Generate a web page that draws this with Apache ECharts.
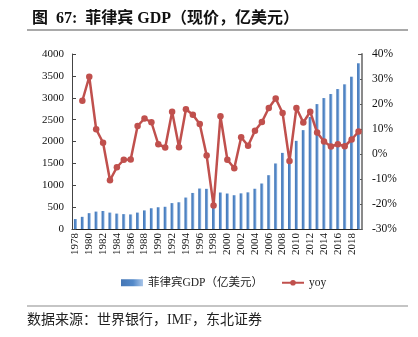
<!DOCTYPE html>
<html>
<head>
<meta charset="utf-8">
<script src="https://cdn.jsdelivr.net/npm/echarts@6/dist/echarts.min.js"></script>
<style>
  html, body { margin: 0; padding: 0; background: #fff; }
  #chart { width: 418px; height: 337px; }
</style>
</head>
<body>
<div id="chart"></div>
<script>
// Philippines GDP at current prices (100 million USD) and year-on-year growth (%)
const years = ['1978','1979','1980','1981','1982','1983','1984','1985','1986','1987',
  '1988','1989','1990','1991','1992','1993','1994','1995','1996','1997',
  '1998','1999','2000','2001','2002','2003','2004','2005','2006','2007',
  '2008','2009','2010','2011','2012','2013','2014','2015','2016','2017',
  '2018','2019'];

const gdp = [227, 278, 362, 398, 412, 375, 352, 340, 333, 375,
  425, 474, 497, 508, 592, 611, 719, 824, 925, 918,
  720, 834, 811, 772, 815, 838, 920, 1040, 1230, 1498,
  1740, 1690, 2015, 2260, 2560, 2855, 2993, 3085, 3199, 3307,
  3481, 3788];

const yoy = [null, 21.3, 30.9, 9.9, 4.5, -10.5, -5.3, -2.3, -2.2, 11.2,
  14.2, 12.7, 3.9, 2.6, 16.9, 2.7, 17.9, 15.7, 12.0, -0.6,
  -20.6, 15.1, -2.3, -5.7, 6.7, 3.3, 9.3, 12.8, 18.4, 22.2,
  16.4, -2.8, 18.4, 12.6, 16.9, 8.6, 5.0, 3.0, 3.9, 3.1,
  5.8, 9.0];

const leftTicks = { min: 0, max: 4000, interval: 500 };
const rightTicks = { min: -30, max: 40, interval: 10 };

const serif = "'Liberation Serif', 'Times New Roman', 'Noto Sans CJK SC', serif";
const cjk = "'Liberation Serif', 'Noto Sans CJK SC', sans-serif";

const chart = echarts.init(document.getElementById('chart'), null, { renderer: 'canvas' });

chart.setOption({
  animation: false,
  backgroundColor: '#ffffff',
  title: {
    text: '图  67:  菲律宾 GDP（现价，亿美元）',
    left: 27,
    top: 6,
    textStyle: { fontFamily: cjk, fontSize: 16, fontWeight: 'bold', color: '#111' }
  },
  graphic: [
    { type: 'line', shape: { x1: 27, y1: 30, x2: 408, y2: 30 },
      style: { stroke: '#8c8c8c', lineWidth: 1.5 } },
    { type: 'line', shape: { x1: 27, y1: 306, x2: 408, y2: 306 },
      style: { stroke: '#8c8c8c', lineWidth: 1.2 } },
    { type: 'text', left: 27, top: 313,
      style: { text: '数据来源：世界银行，IMF，东北证券', font: "14px 'Liberation Serif', 'Noto Sans CJK SC'", fill: '#222' } }
  ],
  legend: {
    left: 116,
    top: 272,
    itemWidth: 22,
    itemHeight: 7,
    itemGap: 18,
    textStyle: { fontFamily: cjk, fontSize: 11.5, color: '#222' },
    data: [
      { name: '菲律宾GDP（亿美元）', icon: 'rect' },
      { name: 'yoy' }
    ]
  },
  grid: { left: 72, right: 56, top: 54, bottom: 108 },
  xAxis: {
    type: 'category',
    data: years,
    boundaryGap: true,
    axisLine: { lineStyle: { color: '#222', width: 1 } },
    axisTick: { inside: true, length: 4, alignWithLabel: false, interval: 0, lineStyle: { color: '#333' } },
    axisLabel: { rotate: 90, interval: 1, margin: 4, fontFamily: serif, fontSize: 11, color: '#111' }
  },
  yAxis: [
    {
      type: 'value',
      min: leftTicks.min, max: leftTicks.max, interval: leftTicks.interval,
      splitLine: { show: false },
      axisLine: { show: true, lineStyle: { color: '#444' } },
      axisTick: { show: true, inside: true, length: 4, lineStyle: { color: '#444' } },
      axisLabel: { margin: 8, fontFamily: serif, fontSize: 11, color: '#111',
        formatter: v => String(v) }
    },
    {
      type: 'value',
      position: 'right',
      min: rightTicks.min, max: rightTicks.max, interval: rightTicks.interval,
      splitLine: { show: false },
      axisLine: { show: true, lineStyle: { color: '#8a8a8a', width: 2 } },
      axisTick: { show: true, inside: true, length: 4, lineStyle: { color: '#555' } },
      axisLabel: { margin: 10, fontFamily: serif, fontSize: 11.5, color: '#111', formatter: '{value}%' }
    }
  ],
  series: [
    {
      name: '菲律宾GDP（亿美元）',
      type: 'bar',
      yAxisIndex: 0,
      data: gdp,
      barWidth: '44%',
      itemStyle: {
        color: new echarts.graphic.LinearGradient(0, 0, 1, 0, [
          { offset: 0, color: '#4576b5' },
          { offset: 0.55, color: '#5389c9' },
          { offset: 1, color: '#a9c5e8' }
        ])
      }
    },
    {
      name: 'yoy',
      type: 'line',
      yAxisIndex: 1,
      data: yoy,
      smooth: false,
      symbol: 'circle',
      symbolSize: 6.5,
      showSymbol: true,
      showAllSymbol: true,
      connectNulls: false,
      lineStyle: { color: '#c0504d', width: 2.5 },
      itemStyle: { color: '#c0504d' }
    }
  ]
});
</script>
</body>
</html>
